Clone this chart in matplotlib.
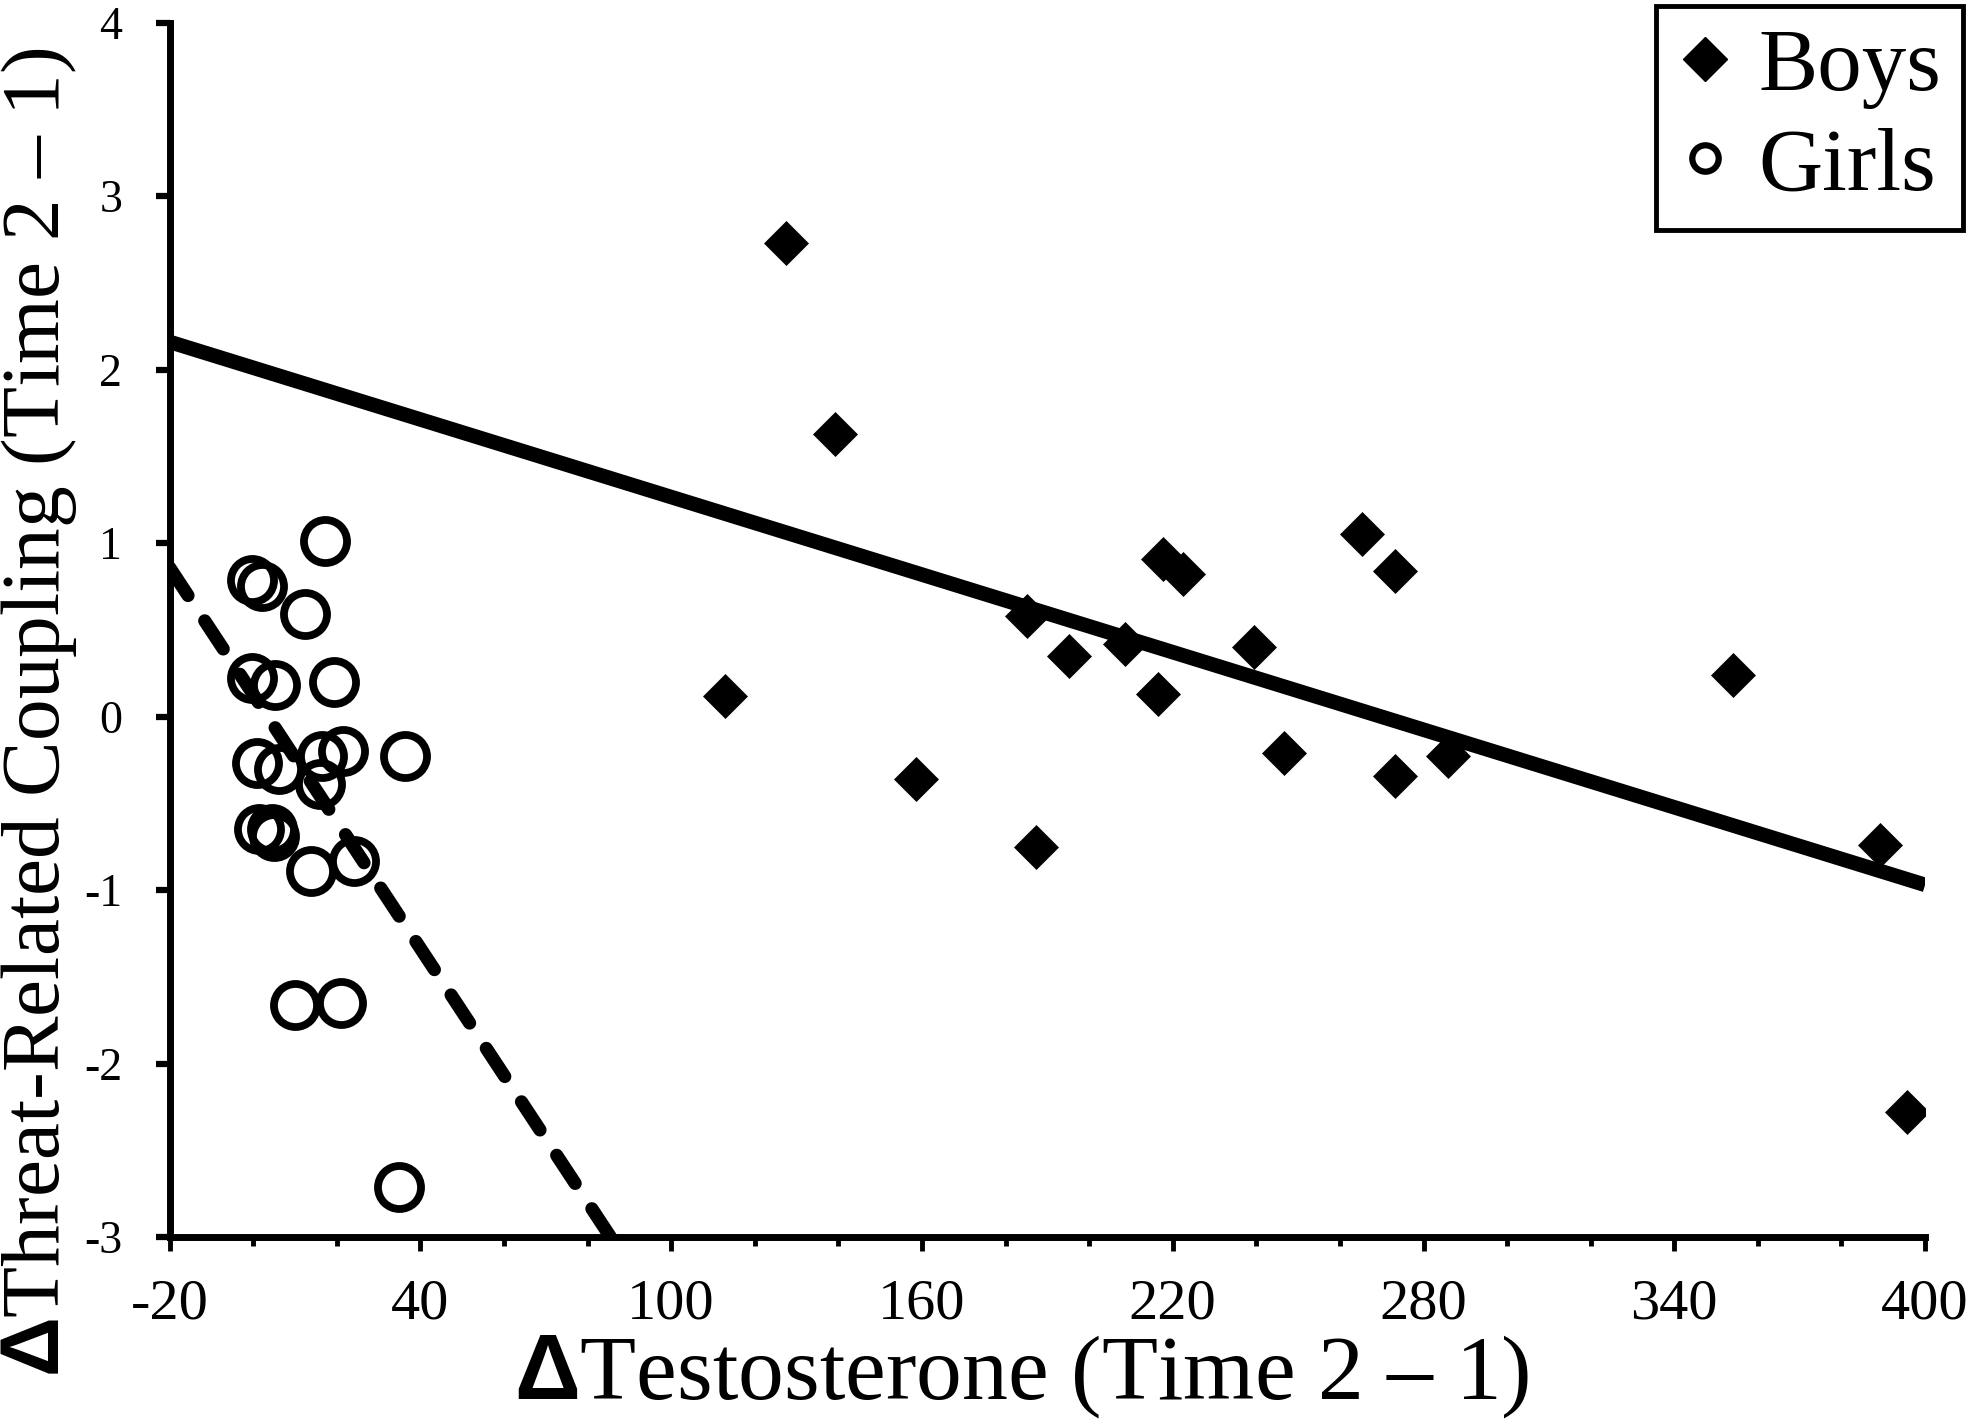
import matplotlib
matplotlib.use("Agg")
import matplotlib.pyplot as plt
from matplotlib.lines import Line2D

plt.rcParams['font.family'] = ['Liberation Serif', 'DejaVu Serif']
plt.rcParams['axes.unicode_minus'] = False
plt.rcParams['mathtext.fontset'] = 'custom'
plt.rcParams['mathtext.rm'] = 'Liberation Serif'
plt.rcParams['mathtext.bf'] = 'Liberation Sans:bold'

# boys: change in testosterone vs change in coupling
boys_x = [127.5, 139.2, 112.8, 158.7, 185.2, 187.3, 195.1, 208.6, 216.4, 217.6,
          222.4, 239.5, 246.7, 265.4, 273.2, 273.2, 285.8, 354.0, 389.1, 395.7]
boys_y = [2.73, 1.63, 0.12, -0.36, 0.58, -0.75, 0.35, 0.42, 0.13, 0.91,
          0.82, 0.40, -0.21, 1.05, 0.84, -0.34, -0.23, 0.24, -0.74, -2.28]

# girls
girls_x = [17.1, -0.3, 2.1, 12.3, -0.3, 5.3, 19.4, 0.9, 6.1, 16.4, 21.4,
           36.4, 16.0, 1.3, 4.5, 4.9, 13.9, 24.2, 10.0, 21.1, 35.0]
girls_y = [1.01, 0.79, 0.75, 0.59, 0.22, 0.18, 0.20, -0.27, -0.30, -0.23, -0.20,
           -0.23, -0.39, -0.65, -0.65, -0.69, -0.89, -0.83, -1.66, -1.65, -2.71]

# fitted lines (end points)
boys_fit_x = [-20, 400]
boys_fit_y = [2.16, -0.97]
girls_fit_x = [-20, 85.5]
girls_fit_y = [0.86, -3.0]

xticks = [-20, 40, 100, 160, 220, 280, 340, 400]
xminor = list(range(-20, 401, 20))
yticks = [-3, -2, -1, 0, 1, 2, 3, 4]

fig = plt.figure(figsize=(19.69, 14.25), dpi=100)
ax = fig.add_axes([0.0861, 0.1319, 0.8916, 0.8522])

ax.plot(boys_fit_x, boys_fit_y, color='black', lw=10.5, solid_capstyle='butt', zorder=2)
ax.plot(girls_fit_x, girls_fit_y, color='black', lw=9.5, dashes=(2.55, 2.3),
        dash_capstyle='round', zorder=2)

ax.plot(boys_x, boys_y, ls='none', marker='D', ms=22, mfc='black', mec='black',
        mew=0.5, zorder=3)
ax.plot(girls_x, girls_y, ls='none', marker='o', ms=31, mfc='none', mec='black',
        mew=5.6, zorder=3)

ax.set_xlim(-20, 400)
ax.set_ylim(-3, 4)
ax.set_xticks(xticks)
ax.set_xticks(xminor, minor=True)
ax.set_yticks(yticks)

for s in ['top', 'right']:
    ax.spines[s].set_visible(False)
for s in ['left', 'bottom']:
    ax.spines[s].set_linewidth(5)

ax.tick_params(axis='x', which='major', direction='out', length=10, width=3.5,
               labelsize=42, pad=20)
ax.tick_params(axis='x', which='minor', direction='out', length=6.5, width=3.5)
ax.tick_params(axis='y', which='major', direction='out', length=10, width=4.5,
               labelsize=33, pad=24)

fig.text(0.519, 0.034, r'$\mathbf{\Delta}$Testosterone (Time 2 – 1)',
         fontsize=66, ha='center', va='center')
fig.text(0.02, 0.5, r'$\mathbf{\Delta}$Threat-Related Coupling (Time 2 – 1)',
         fontsize=60, ha='center', va='center', rotation=90)

handles = [Line2D([], [], ls='none', marker='D', ms=22, mfc='black', mec='black'),
           Line2D([], [], ls='none', marker='o', ms=19, mfc='none', mec='black', mew=4.5)]
leg = ax.legend(handles, ['Boys', 'Girls'], loc='upper right',
                bbox_to_anchor=(0.997, 0.996), bbox_transform=fig.transFigure,
                borderaxespad=0, fontsize=64, handlelength=0.6, handletextpad=0.3,
                borderpad=0.25, labelspacing=0.2, fancybox=False, framealpha=1)
leg.get_frame().set_edgecolor('black')
leg.get_frame().set_linewidth(3.5)

fig.savefig('out.png', dpi=100)
